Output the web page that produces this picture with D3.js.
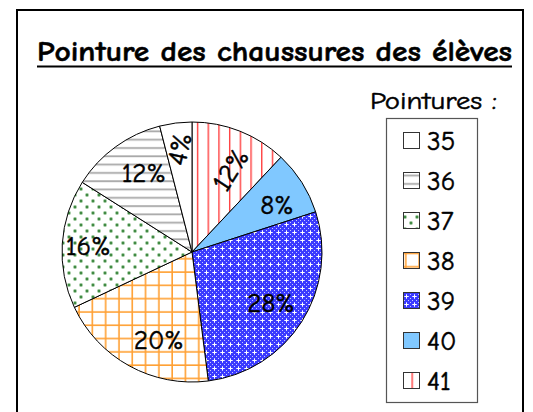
<!DOCTYPE html>
<html>
<head>
<meta charset="utf-8">
<script src="https://cdn.jsdelivr.net/npm/d3@7"></script>
<style>
  html, body { margin: 0; padding: 0; background: #fff; }
  svg { display: block; }
  text { font-family: "Comic Sans MS", "Comic Neue", "DejaVu Sans", sans-serif; fill: #000; stroke: #000; stroke-width: 0.5px; }
</style>
</head>
<body>
<svg id="chart" width="533" height="412"></svg>
<script>
// ---- data ----
const title = "Pointure des chaussures des élèves";
const legendTitle = "Pointures :";
const sizes = ["35", "36", "37", "38", "39", "40", "41"];
const percents = [4, 12, 16, 20, 28, 8, 12];

// ---- setup ----
const svg = d3.select("#chart");
const defs = svg.append("defs");

function pat(id, w, h, draw) {
  const p = defs.append("pattern").attr("id", id)
    .attr("patternUnits", "userSpaceOnUse").attr("width", w).attr("height", h);
  p.append("rect").attr("width", w).attr("height", h).attr("fill", "#fff");
  draw(p);
}
pat("p35", 10, 10, p => {});
pat("p36", 10, 8.3, p => {
  p.append("rect").attr("x", 0).attr("y", 3).attr("width", 10).attr("height", 1.8).attr("fill", "#a8a8a8");
});
pat("p37", 12, 12, p => {
  [[3, 3], [9, 9]].forEach(([x, y]) => {
    p.append("circle").attr("cx", x).attr("cy", y).attr("r", 1.9).attr("fill", "#8fc08f");
    p.append("circle").attr("cx", x).attr("cy", y).attr("r", 1.1).attr("fill", "#2e7d32");
  });
});
pat("p38", 13.3, 13.3, p => {
  p.append("rect").attr("x", 6).attr("y", 0).attr("width", 1.6).attr("height", 13.3).attr("fill", "#ffa033");
  p.append("rect").attr("x", 0).attr("y", 6).attr("width", 13.3).attr("height", 1.6).attr("fill", "#ffa033");
});
pat("p39", 8, 8, p => {
  p.select("rect").attr("fill", "#3a3aff");
  [[0, 0], [4, 0], [0, 4], [4, 4], [2, 2], [6, 2], [2, 6], [6, 6]].forEach(([x, y]) => {
    p.append("rect").attr("x", x).attr("y", y).attr("width", 1).attr("height", 1).attr("fill", "#c8c8ff");
  });
  p.append("rect").attr("x", 5).attr("y", 4).attr("width", 3).attr("height", 1).attr("fill", "#fff");
  p.append("rect").attr("x", 6).attr("y", 3).attr("width", 1).attr("height", 3).attr("fill", "#fff");
});
pat("p40", 10, 10, p => { p.select("rect").attr("fill", "#80c8ff"); });
pat("p41", 10.7, 10, p => {
  p.append("rect").attr("x", 5).attr("y", 0).attr("width", 1.2).attr("height", 10).attr("fill", "#ff2020");
});

const fillOf = s => `url(#p${s})`;

// outer frame
svg.append("rect").attr("x", 17).attr("y", 10).attr("width", 506).attr("height", 420)
  .attr("fill", "none").attr("stroke", "#000").attr("stroke-width", 2);

// title
svg.append("text").attr("x", 37).attr("y", 61)
  .attr("font-size", 28).attr("font-weight", "bold")
  .attr("textLength", 475).attr("lengthAdjust", "spacingAndGlyphs")
  .text(title);
svg.append("line").attr("x1", 37).attr("x2", 512).attr("y1", 66.5).attr("y2", 66.5)
  .attr("stroke", "#000").attr("stroke-width", 2);

// pie
const cx = 192, cy = 252, r = 130;
const order = d3.range(sizes.length).reverse(); // clockwise from top: 41, 40, ..., 35
const pie = d3.pie().sort(null).value(i => percents[i]);
const arcs = pie(order);
const arc = d3.arc().innerRadius(0).outerRadius(r);

const g = svg.append("g").attr("transform", `translate(${cx},${cy})`);
g.selectAll("path.slice").data(arcs).join("path")
  .attr("class", "slice")
  .attr("d", arc)
  .attr("fill", d => fillOf(sizes[d.data]))
  .attr("stroke", "#000").attr("stroke-width", 1);

// label placement tweaks (radius factor, angle shift in degrees, rotation)
const rot = { "41": -58, "35": -78 };
const labelR = { "35": 0.8, "37": 0.8, "41": 0.7, "40": 0.75 };
const labelShift = { "38": -8, "36": 5, "40": 3, "41": 3 };
g.selectAll("text.lbl").data(arcs).join("text")
  .attr("class", "lbl")
  .attr("transform", d => {
    const s = sizes[d.data];
    const rr = r * (labelR[s] || 0.72);
    const a = (d.startAngle + d.endAngle) / 2 + (labelShift[s] || 0) * Math.PI / 180;
    const x = Math.sin(a) * rr, y = -Math.cos(a) * rr;
    return `translate(${x},${y}) rotate(${rot[s] || 0})`;
  })
  .attr("text-anchor", "middle").attr("dy", "0.36em")
  .attr("font-size", 27)
  .text(d => percents[d.data] + "%");

// legend
svg.append("text").attr("x", 370).attr("y", 109).attr("font-size", 25)
  .attr("textLength", 127).attr("lengthAdjust", "spacingAndGlyphs")
  .text(legendTitle);
svg.append("rect").attr("x", 386.5).attr("y", 118.5).attr("width", 91).attr("height", 284)
  .attr("fill", "#fff").attr("stroke", "#555").attr("stroke-width", 1.2);

const ly = d3.scalePoint().domain(sizes).range([140, 380]);
const lg = svg.append("g").selectAll("g").data(sizes).join("g")
  .attr("transform", s => `translate(0,${ly(s)})`);
lg.append("rect").attr("x", 403.5).attr("y", -7.5).attr("width", 16).attr("height", 16)
  .attr("fill", s => fillOf(s)).attr("stroke", "#333").attr("stroke-width", 1);
lg.append("text").attr("x", 427).attr("y", 0).attr("dy", "0.36em")
  .attr("font-size", 27).text(s => s);
</script>
</body>
</html>
